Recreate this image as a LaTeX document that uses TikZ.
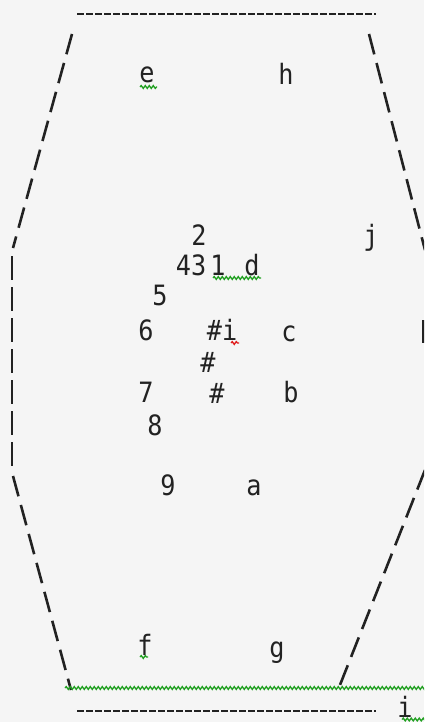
\documentclass[tikz,border=0pt]{standalone}
\usepackage{fontspec}
\newfontfamily\pixfont[FakeStretch=0.9]{DejaVu Sans Mono}
\usetikzlibrary{decorations.pathmorphing}
\definecolor{ink}{HTML}{222222}
\definecolor{bgc}{HTML}{F5F5F5}
\definecolor{sqgreen}{HTML}{22A022}
\definecolor{sqred}{HTML}{E01E1E}
\tikzset{
  lbl/.style={inner sep=0pt, anchor=base, text=ink, font=\pixfont\fontsize{28}{28}\selectfont},
  side/.style={draw=ink, line width=2.6pt, dash pattern=on 21pt off 9pt},
  vside/.style={draw=ink, line width=2.6pt, dash pattern=on 24pt off 7pt},
  hline/.style={draw=ink, line width=2.2pt, dash pattern=on 6.5pt off 2.5pt},
  squig/.style={line width=1.3pt, decorate, decoration={snake, segment length=4pt, amplitude=1.4pt}},
  gsq/.style={squig, draw=sqgreen},
  rsq/.style={squig, draw=sqred},
}
\begin{document}
\begin{tikzpicture}[x=1pt,y=-1pt]
\fill[bgc] (0,0) rectangle (424,722);
\useasboundingbox (0,0) rectangle (424,722);
\begin{scope}
\clip (0,0) rectangle (424,722);
% outline
\coordinate (tl) at (72,34);
\coordinate (ml1) at (13,248);
\coordinate (ml2) at (12,256);
\coordinate (ml3) at (12,472);
\coordinate (bl) at (71,690);
\coordinate (tr) at (369,34);
\coordinate (mr1) at (425,250);
\coordinate (mr2) at (425,472);
\coordinate (br) at (338,690);
\coordinate (rd1) at (423.5,320);
\coordinate (rd2) at (423.5,343);
\draw[side] (tl) -- (ml1);
\draw[vside] (ml2) -- (ml3);
\draw[side] (13,476) -- (bl);
\draw[side] (tr) -- (mr1);
\draw[draw=ink, line width=2.6pt] (rd1) -- (rd2);
\draw[side] (425,470) -- (br);
\coordinate (t1) at (77,14);
\coordinate (t2) at (376,14);
\coordinate (b1) at (77,711);
\coordinate (b2) at (376,711);
\draw[hline] (t1) -- (t2);
\draw[hline] (b1) -- (b2);
% labels
\node[lbl] (e) at (147,83) {e};
\node[lbl] (h) at (286,85) {h};
\node[lbl] (n2) at (199,245) {2};
\node[lbl] (j) at (371,245) {j};
\node[lbl] (n43) at (191,275) {43};
\node[lbl] (n1) at (218,275) {1};
\node[lbl] (d) at (252,275) {d};
\node[lbl] (n5) at (160,305) {5};
\node[lbl] (n6) at (146,340) {6};
\node[lbl] (hi) at (222,340) {\#i};
\node[lbl] (c) at (289,341) {c};
\node[lbl] (h2) at (208,372) {\#};
\node[lbl] (n7) at (146,402) {7};
\node[lbl] (h3) at (217,403) {\#};
\node[lbl] (b) at (291,402) {b};
\node[lbl] (n8) at (155,435) {8};
\node[lbl] (n9) at (168,495) {9};
\node[lbl] (a) at (254,495) {a};
\node[lbl] (f) at (145,655) {f};
\node[lbl] (g) at (277,657) {g};
\node[lbl] (i2) at (405,717) {i};
% squiggles
\draw[gsq] (140,87) -- (157,87);
\draw[gsq] (213,278) -- (261,278);
\draw[gsq] (140,657) -- (148,657);
\draw[rsq] (231,343) -- (239,343);
\draw[gsq] (65,688) -- (430,688);
\draw[gsq] (402,719.5) -- (430,719.5);
\end{scope}
\end{tikzpicture}
\end{document}
